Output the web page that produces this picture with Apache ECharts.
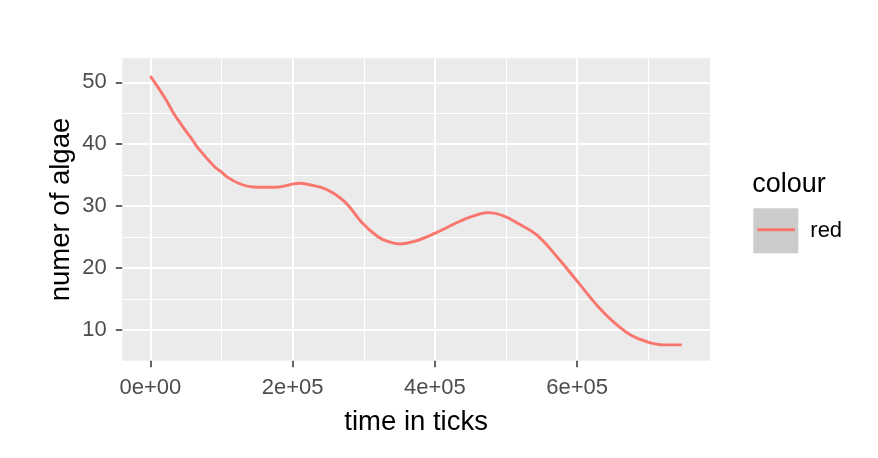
<!DOCTYPE html>
<html>
<head>
<meta charset="utf-8">
<script src="https://cdn.jsdelivr.net/npm/echarts/dist/echarts.min.js"></script>
<style>
  html, body { margin: 0; padding: 0; background: #ffffff; }
  #chart { width: 878px; height: 458px; }
</style>
</head>
<body>
<div id="chart"></div>
<script>
// ---- data ----
const timeTicks = [0, 21000, 32300, 44000, 60400, 67000, 90000, 100300, 107000, 124000, 144500, 176000, 201000, 210400, 222000, 247900, 273500, 296400, 319400, 333800, 351000, 371000, 399700, 428400, 451300, 474300, 497200, 520200, 543100, 571800, 600500, 629200, 652100, 675100, 698000, 721000, 747000];
const algae     = [51.0, 47.4, 45.1, 43.1, 40.5, 39.4, 36.4, 35.5, 34.8, 33.7, 33.1, 33.05, 33.6, 33.7, 33.5, 32.7, 30.7, 27.5, 25.1, 24.3, 23.9, 24.3, 25.6, 27.2, 28.3, 28.95, 28.4, 27.0, 25.35, 21.8, 17.8, 13.8, 11.2, 9.2, 8.1, 7.6, 7.6];

const xTickValues = [0, 200000, 400000, 600000];
const xTickLabels = ['0e+00', '2e+05', '4e+05', '6e+05'];
const yTickValues = [10, 20, 30, 40, 50];
const yTickLabels = ['10', '20', '30', '40', '50'];

const seriesName = 'red';
const legendTitle = 'colour';
const xTitle = 'time in ticks';
const yTitle = 'numer of algae';

// ---- styling ----
const FONT = "'Liberation Sans', Arial, sans-serif";
const panelBg = '#EBEBEB';
const lineColor = '#F8766D';
const tickColor = '#333333';
const tickTextColor = '#4D4D4D';

const pairs = timeTicks.map((t, i) => [t, algae[i]]);

const hidden = {
  axisLine: { show: false, onZero: false },
  axisTick: { show: false },
  axisLabel: { show: false },
  splitLine: { show: false }
};

const chart = echarts.init(document.getElementById('chart'), null, { renderer: 'canvas' });

chart.setOption({
  animation: false,
  backgroundColor: '#ffffff',
  title: {
    text: legendTitle,
    left: 752.3, top: 171.4, padding: 0,
    textStyle: { fontFamily: FONT, fontSize: 27, fontWeight: 'normal', color: '#000000' }
  },
  legend: [
    {
      data: [{ name: seriesName, icon: 'rect', itemStyle: { color: '#CCCCCC', borderWidth: 0 } }],
      left: 753.3, top: 208.3, padding: 0,
      itemWidth: 45, itemHeight: 45,
      selectedMode: false,
      textStyle: { fontFamily: FONT, fontSize: 22, color: '#000000', padding: [0, 0, 0, 7] }
    },
    {
      data: [{ name: seriesName, icon: 'rect', itemStyle: { color: lineColor, borderWidth: 0 } }],
      left: 757.3, top: 228.3, padding: 0,
      itemWidth: 37.7, itemHeight: 3,
      selectedMode: false, z: 6,
      formatter: function () { return ''; },
      textStyle: { fontSize: 1 }
    }
  ],
  grid: [
    { left: 122.3, top: 58.3, width: 587.7, height: 302.4, show: true, backgroundColor: panelBg, borderWidth: 0, containLabel: false, outerBoundsMode: 'none' },
    { left: 122.3, top: 82.3, width: 587.7, height: 247.7, show: false, containLabel: false, outerBoundsMode: 'none' },
    { left: 150.3, top: 58.3, width: 569.2, height: 302.4, show: false, containLabel: false, outerBoundsMode: 'none' },
    { left: 150.3, top: 58.3, width: 426.9, height: 302.4, show: false, containLabel: false, outerBoundsMode: 'none' }
  ],
  xAxis: [
    Object.assign({
      type: 'value', gridIndex: 0, min: -39354, max: 786648,
      name: xTitle, nameLocation: 'middle', nameGap: 48,
      nameTextStyle: { fontFamily: FONT, fontSize: 27.5, color: '#000000' }
    }, hidden),
    Object.assign({ type: 'value', gridIndex: 1, min: 0, max: 1, show: false }, hidden),
    {
      type: 'value', gridIndex: 2, min: 0, max: 800000, interval: 200000,
      axisLine: { show: false, onZero: false },
      axisTick: { show: false },
      axisLabel: { show: false },
      minorTick: { show: false, splitNumber: 2 },
      splitLine: { show: true, showMinLine: true, showMaxLine: true, lineStyle: { color: '#FFFFFF', width: 2 } },
      minorSplitLine: { show: true, lineStyle: { color: '#FFFFFF', width: 1 } }
    },
    {
      type: 'value', gridIndex: 3, min: 0, max: 600000, interval: 200000,
      axisLine: { show: false, onZero: false },
      axisTick: { show: true, length: 6.5, lineStyle: { color: tickColor, width: 1.5 } },
      axisLabel: {
        show: true, margin: 16.5, showMinLabel: true, showMaxLabel: true,
        fontFamily: FONT, fontSize: 22, color: tickTextColor,
        formatter: function (v) { const i = xTickValues.indexOf(v); return i >= 0 ? xTickLabels[i] : ''; }
      },
      splitLine: { show: false }
    }
  ],
  yAxis: [
    Object.assign({
      type: 'value', gridIndex: 0, min: 5.04, max: 53.88,
      name: yTitle, nameLocation: 'middle', nameGap: 46.5, nameRotate: 90,
      nameTextStyle: { fontFamily: FONT, fontSize: 27.5, color: '#000000' }
    }, hidden),
    {
      type: 'value', gridIndex: 1, min: 10, max: 50, interval: 10,
      axisLine: { show: false, onZero: false },
      axisTick: { show: true, length: 6.5, lineStyle: { color: tickColor, width: 1.5 } },
      axisLabel: {
        show: true, margin: 15.5, showMinLabel: true, showMaxLabel: true,
        fontFamily: FONT, fontSize: 22, color: tickTextColor,
        formatter: function (v) { const i = yTickValues.indexOf(v); return i >= 0 ? yTickLabels[i] : ''; }
      },
      minorTick: { show: false, splitNumber: 2 },
      splitLine: { show: true, showMinLine: true, showMaxLine: true, lineStyle: { color: '#FFFFFF', width: 2 } },
      minorSplitLine: { show: true, lineStyle: { color: '#FFFFFF', width: 1 } }
    },
    Object.assign({ type: 'value', gridIndex: 2, min: 0, max: 1, show: false }, hidden),
    Object.assign({ type: 'value', gridIndex: 3, min: 0, max: 1, show: false }, hidden)
  ],
  series: [
    {
      name: seriesName,
      type: 'line',
      xAxisIndex: 0, yAxisIndex: 0,
      data: pairs,
      smooth: 0.4,
      symbol: 'none',
      showSymbol: false,
      clip: false,
      z: 5,
      lineStyle: { color: lineColor, width: 2.9 },
      itemStyle: { color: lineColor }
    }
  ]
});
</script>
</body>
</html>
